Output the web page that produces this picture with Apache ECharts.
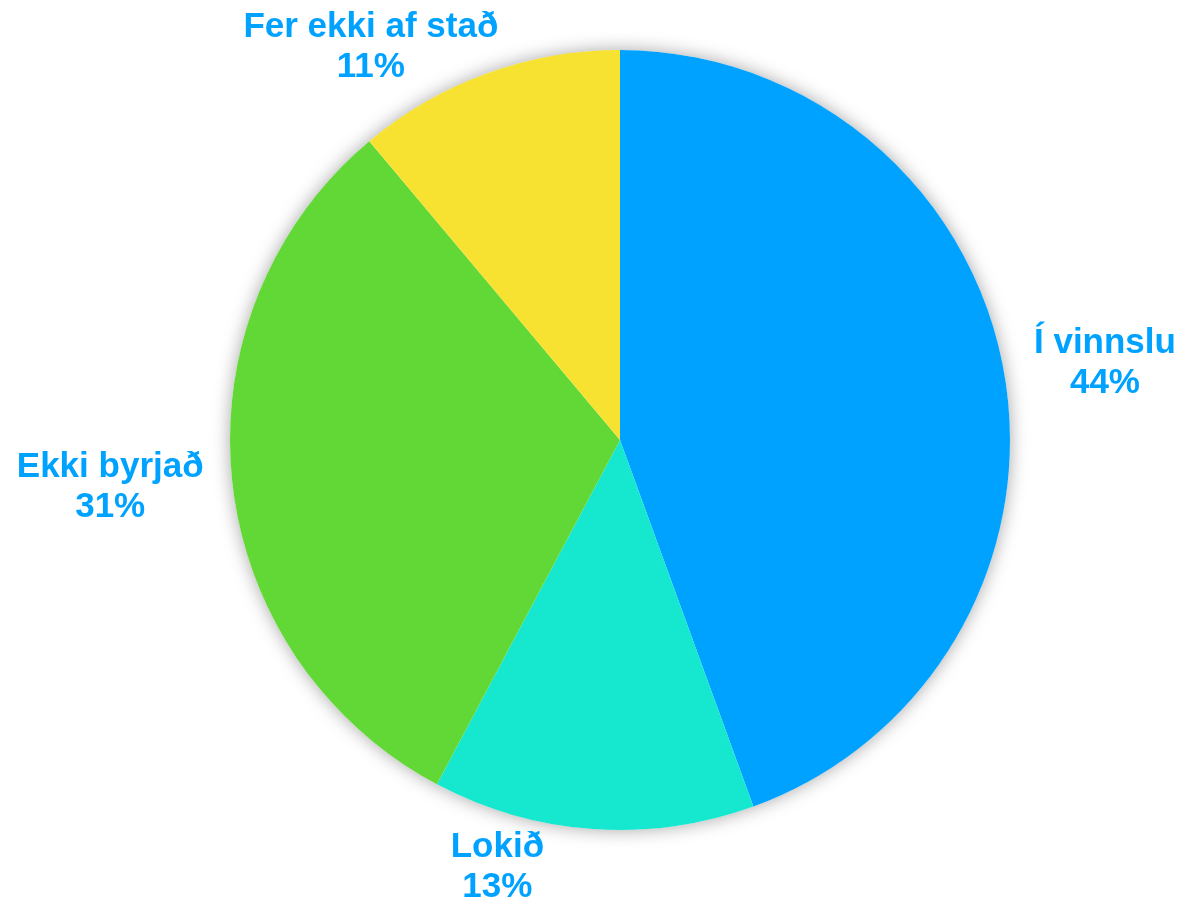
<!DOCTYPE html>
<html>
<head>
<meta charset="utf-8">
<script src="https://cdn.jsdelivr.net/npm/echarts@6/dist/echarts.min.js"></script>
<style>
html,body{margin:0;padding:0;background:#fff;}
#chart{width:1183px;height:905px;}
</style>
</head>
<body>
<div id="chart"></div>
<script>
const categories = ['Í vinnslu', 'Lokið', 'Ekki byrjað', 'Fer ekki af stað'];
const values = [40, 12, 28, 10];
const colors = ['#00A2FF', '#16E7CF', '#61D836', '#F8E231'];

const CENTER = [620, 440];
const RADIUS = 390;
const LABEL_ANGLE_SHIFT = [1, 12, 0.7, -12.4];
const LABEL_EXTRA_R = [101, 55, 122, 75];

const total = values.reduce((a, b) => a + b, 0);

const chart = echarts.init(document.getElementById('chart'));

function midAngle(i) {
  let before = 0;
  for (let k = 0; k < i; k++) before += values[k];
  return (before + values[i] / 2) / total * 360;
}

chart.setOption({
  animation: false,
  backgroundColor: '#fff',
  series: [
    {
      type: 'pie',
      silent: true,
      center: CENTER,
      radius: RADIUS,
      data: [{ value: 1 }],
      label: { show: false },
      labelLine: { show: false },
      itemStyle: {
        color: '#ffffff',
        shadowBlur: 18,
        shadowColor: 'rgba(0,0,0,0.35)'
      },
      z: 1
    },
    {
      type: 'pie',
      center: CENTER,
      radius: RADIUS,
      startAngle: 90,
      clockwise: true,
      z: 2,
      data: categories.map((n, i) => ({
        name: n,
        value: values[i],
        itemStyle: { color: colors[i] }
      })),
      itemStyle: { borderWidth: 0 },
      label: {
        show: true,
        position: 'outside',
        alignTo: 'none',
        overflow: 'none',
        edgeDistance: 0,
        formatter: p => p.name + '\n' + Math.round(p.value / total * 100) + '%',
        fontFamily: 'Liberation Sans, Arial, sans-serif',
        fontWeight: 'bold',
        fontSize: 35,
        lineHeight: 40,
        color: '#00A2FF',
        align: 'center'
      },
      labelLine: { show: false },
      labelLayout: function (p) {
        if (p.seriesIndex !== 1) return {};
        const i = p.dataIndex;
        const a = (midAngle(i) + LABEL_ANGLE_SHIFT[i]) * Math.PI / 180;
        const d = RADIUS + LABEL_EXTRA_R[i];
        return {
          x: CENTER[0] + Math.sin(a) * d,
          y: CENTER[1] - Math.cos(a) * d,
          align: 'center',
          verticalAlign: 'middle'
        };
      },
      emphasis: { disabled: true }
    }
  ]
});
</script>
</body>
</html>
